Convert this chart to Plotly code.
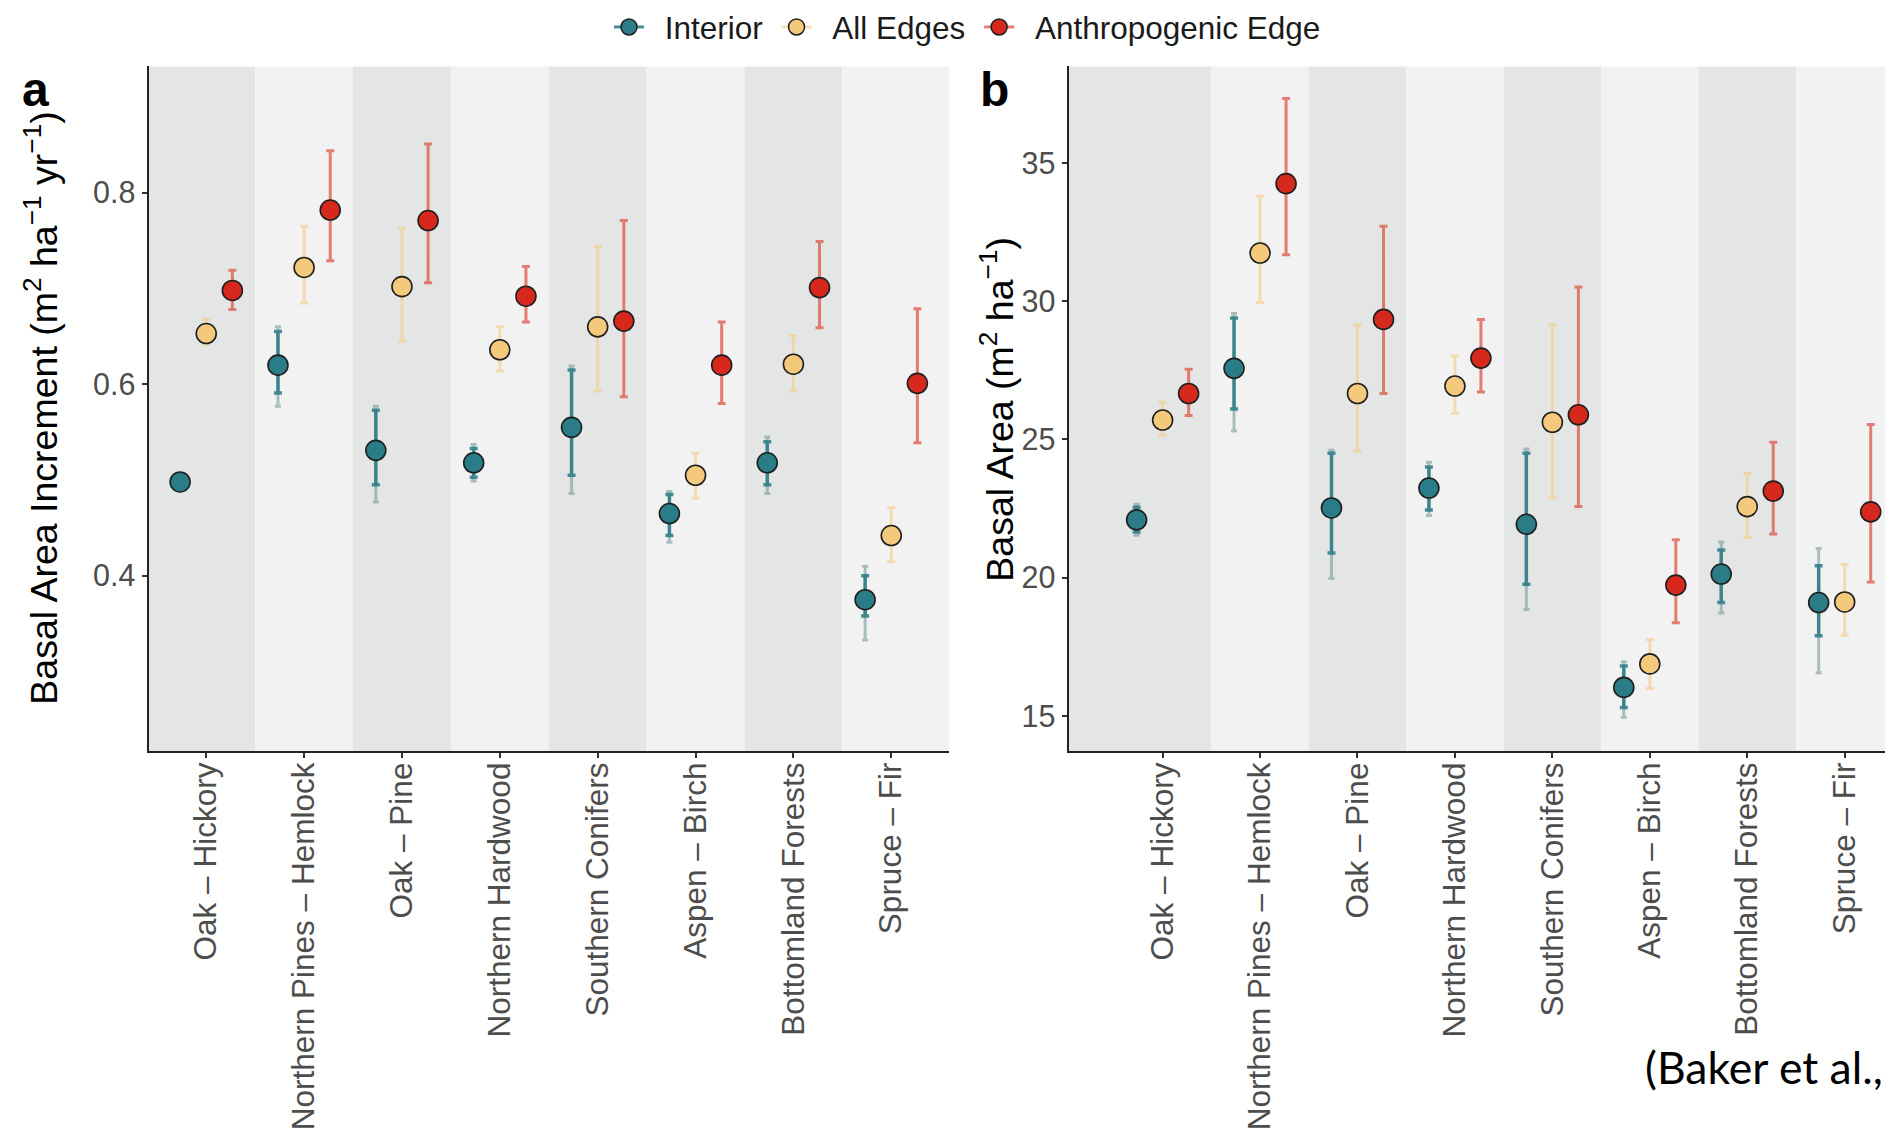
import plotly.graph_objects as go

# ---------------- data ----------------
categories = ["Oak – Hickory", "Northern Pines – Hemlock", "Oak – Pine", "Northern Hardwood",
              "Southern Conifers", "Aspen – Birch", "Bottomland Forests", "Spruce – Fir"]
series_names = ["Interior", "All Edges", "Anthropogenic Edge"]

# Panel a: Basal Area Increment
bai_interior = [0.498, 0.620, 0.531, 0.518, 0.555, 0.465, 0.518, 0.375]
bai_interior_lo = [0.491, 0.577, 0.477, 0.499, 0.486, 0.435, 0.486, 0.333]
bai_interior_hi = [0.505, 0.660, 0.577, 0.537, 0.619, 0.488, 0.545, 0.410]
bai_interior_lo_inner = [0.492, 0.591, 0.495, 0.503, 0.505, 0.442, 0.495, 0.358]
bai_interior_hi_inner = [0.504, 0.655, 0.573, 0.533, 0.615, 0.485, 0.540, 0.400]
bai_alledges = [0.653, 0.722, 0.702, 0.636, 0.660, 0.505, 0.621, 0.442]
bai_alledges_lo = [0.642, 0.685, 0.645, 0.614, 0.593, 0.481, 0.593, 0.415]
bai_alledges_hi = [0.668, 0.765, 0.763, 0.660, 0.744, 0.528, 0.651, 0.471]
bai_anthro = [0.698, 0.782, 0.771, 0.692, 0.666, 0.620, 0.701, 0.601]
bai_anthro_lo = [0.678, 0.729, 0.706, 0.665, 0.587, 0.580, 0.659, 0.539]
bai_anthro_hi = [0.719, 0.844, 0.851, 0.723, 0.771, 0.665, 0.749, 0.679]

# Panel b: Basal Area
ba_interior = [22.09, 27.57, 22.52, 23.24, 21.93, 16.03, 20.13, 19.10]
ba_interior_lo = [21.53, 25.30, 19.97, 22.25, 18.85, 14.95, 18.72, 16.56]
ba_interior_hi = [22.65, 29.55, 24.61, 24.17, 24.65, 16.96, 21.29, 21.05]
ba_interior_lo_inner = [21.65, 26.10, 20.89, 22.45, 19.76, 15.30, 19.10, 17.90]
ba_interior_hi_inner = [22.55, 29.39, 24.50, 24.00, 24.50, 16.80, 21.00, 20.43]
ba_alledges = [25.70, 31.74, 26.66, 26.93, 25.62, 16.88, 22.57, 19.12]
ba_alledges_lo = [25.14, 29.95, 24.57, 25.94, 22.89, 15.99, 21.45, 17.92]
ba_alledges_hi = [26.34, 33.80, 29.15, 28.02, 29.15, 17.76, 23.77, 20.48]
ba_anthro = [26.66, 34.25, 29.34, 27.94, 25.89, 19.73, 23.13, 22.38]
ba_anthro_lo = [25.86, 31.68, 26.66, 26.71, 22.57, 18.37, 21.58, 19.84]
ba_anthro_hi = [27.54, 37.33, 32.71, 29.34, 30.51, 21.37, 24.90, 25.54]

bai_ticks = [0.4, 0.6, 0.8]
ba_ticks = [15, 20, 25, 30, 35]

# ---------------- style ----------------
W, H = 1893, 1133
OFF = 8  # page body margin in the browser
FONT = "Liberation Sans, Arial, sans-serif"
fill_colors = ["#2a7c86", "#f5c97b", "#d7281e"]
bar_colors = ["rgba(40,122,132,0.85)", "rgba(243,203,130,0.6)", "rgba(222,85,70,0.75)"]
outer_teal = "rgba(110,145,150,0.55)"
band_dark, band_light = "#e4e6e6", "#f2f2f2"
dodge = [-0.267, 0.0, 0.267]
legend_labels = ["\u2002Interior\u00a0", "\u2002All Edges\u00a0", "\u2002Anthropogenic Edge"]

n = len(categories)
pos = list(range(1, n + 1))


def px_x(s):  # screen px -> paper fraction
    return (s - OFF) / W


def px_y(s):
    return (H - (s - OFF)) / H


fig = go.Figure()

# legend-only entries
for name, fc, bc in zip(legend_labels, fill_colors, bar_colors):
    fig.add_trace(go.Scatter(x=[None], y=[None], mode="lines+markers", name=name,
                             marker=dict(color=fc, size=17, line=dict(color="#1f1f1f", width=1.5)),
                             line=dict(color=bc, width=3), xaxis="x", yaxis="y"))


def add_panel(xa, ya, vals, los, his, inner_lo, inner_hi):
    xs0 = [p + dodge[0] for p in pos]
    fig.add_trace(go.Scatter(
        x=xs0, y=vals[0], mode="markers", marker=dict(size=1, opacity=0), showlegend=False,
        hoverinfo="skip", xaxis=xa, yaxis=ya,
        error_y=dict(type="data", symmetric=False,
                     array=[h - v for h, v in zip(his[0], vals[0])],
                     arrayminus=[v - l for v, l in zip(vals[0], los[0])],
                     color=outer_teal, thickness=3, width=3)))
    fig.add_trace(go.Scatter(
        x=xs0, y=vals[0], mode="markers", marker=dict(size=1, opacity=0), showlegend=False,
        hoverinfo="skip", xaxis=xa, yaxis=ya,
        error_y=dict(type="data", symmetric=False,
                     array=[h - v for h, v in zip(inner_hi, vals[0])],
                     arrayminus=[v - l for v, l in zip(vals[0], inner_lo)],
                     color=bar_colors[0], thickness=3.5, width=4)))
    for k in (1, 2):
        xs = [p + dodge[k] for p in pos]
        fig.add_trace(go.Scatter(
            x=xs, y=vals[k], mode="markers", marker=dict(size=1, opacity=0), showlegend=False,
            hoverinfo="skip", xaxis=xa, yaxis=ya,
            error_y=dict(type="data", symmetric=False,
                         array=[h - v for h, v in zip(his[k], vals[k])],
                         arrayminus=[v - l for v, l in zip(vals[k], los[k])],
                         color=bar_colors[k], thickness=3, width=4)))
    for k in range(3):
        xs = [p + dodge[k] for p in pos]
        fig.add_trace(go.Scatter(
            x=xs, y=vals[k], mode="markers", showlegend=False, name=series_names[k],
            marker=dict(color=fill_colors[k], size=20, line=dict(color="#1f1f1f", width=1.6)),
            xaxis=xa, yaxis=ya))


add_panel("x", "y", [bai_interior, bai_alledges, bai_anthro],
          [bai_interior_lo, bai_alledges_lo, bai_anthro_lo],
          [bai_interior_hi, bai_alledges_hi, bai_anthro_hi],
          bai_interior_lo_inner, bai_interior_hi_inner)
add_panel("x2", "y2", [ba_interior, ba_alledges, ba_anthro],
          [ba_interior_lo, ba_alledges_lo, ba_anthro_lo],
          [ba_interior_hi, ba_alledges_hi, ba_anthro_hi],
          ba_interior_lo_inner, ba_interior_hi_inner)

xr_a = [0.41, 8.59]
xr_b = [0.034, 8.496]
shapes = []
for xref, yref, xr in (("x", "y domain", xr_a), ("x2", "y2 domain", xr_b)):
    for i, p in enumerate(pos):
        x0 = xr[0] if i == 0 else p - 0.5
        x1 = xr[1] if i == n - 1 else p + 0.5
        shapes.append(dict(type="rect", xref=xref, yref=yref, x0=x0, x1=x1, y0=0, y1=1,
                           fillcolor=band_dark if i % 2 == 0 else band_light,
                           line=dict(width=0), layer="below"))

ydom = [px_y(751), px_y(66.4)]
axis_common = dict(showgrid=False, zeroline=False, showline=True, linecolor="#222222", linewidth=2,
                   ticks="outside", ticklen=5, tickwidth=1.5, tickcolor="#333333", automargin=False)
xtickfont = dict(family=FONT, size=31.5, color="#4d4d4d")
ytickfont = dict(family=FONT, size=30.5, color="#4d4d4d")

fig.update_layout(
    width=W, height=H, margin=dict(l=0, r=0, t=0, b=0, autoexpand=False),
    paper_bgcolor="white", plot_bgcolor="rgba(0,0,0,0)",
    font=dict(family=FONT, color="#1a1a1a"),
    shapes=shapes,
    showlegend=True,
    legend=dict(orientation="h", x=px_x(609), xanchor="left", y=px_y(27), yanchor="middle",
                font=dict(family=FONT, size=31.5, color="#1a1a1a"), bgcolor="rgba(0,0,0,0)"),
    xaxis=dict(domain=[px_x(148.5), px_x(949)], range=xr_a, tickvals=pos, ticktext=categories,
               tickangle=-90, anchor="y", tickfont=xtickfont, ticklabelstandoff=-8, **axis_common),
    yaxis=dict(domain=ydom, range=[0.217, 0.932], tickvals=bai_ticks, anchor="x",
               tickfont=ytickfont, **axis_common),
    xaxis2=dict(domain=[px_x(1068.5), px_x(1893)], range=xr_b, tickvals=pos, ticktext=categories,
                tickangle=-90, anchor="y2", tickfont=xtickfont, ticklabelstandoff=-8, **axis_common),
    yaxis2=dict(domain=ydom, range=[13.73, 38.49], tickvals=ba_ticks, anchor="x2",
                tickfont=ytickfont, **axis_common),
    annotations=[
        dict(text="<b>a</b>", x=px_x(20), y=px_y(89), xref="paper", yref="paper",
             xanchor="left", yanchor="middle", showarrow=False,
             font=dict(family=FONT, size=48, color="black")),
        dict(text="<b>b</b>", x=px_x(978), y=px_y(89), xref="paper", yref="paper",
             xanchor="left", yanchor="middle", showarrow=False,
             font=dict(family=FONT, size=48, color="black")),
        dict(text="Basal Area Increment (m<sup>2</sup> ha<sup>−1</sup> yr<sup>−1</sup>)",
             x=px_x(41), y=0.5, xref="paper", yref="y domain", textangle=-90,
             xanchor="center", yanchor="middle", showarrow=False,
             font=dict(family=FONT, size=37.5, color="black")),
        dict(text="Basal Area (m<sup>2</sup> ha<sup>−1</sup>)",
             x=px_x(997), y=0.5, xref="paper", yref="y2 domain", textangle=-90,
             xanchor="center", yanchor="middle", showarrow=False,
             font=dict(family=FONT, size=37.5, color="black")),
        dict(text="(Baker et al.,", x=px_x(1643), y=px_y(1066), xref="paper", yref="paper",
             xanchor="left", yanchor="middle", showarrow=False,
             font=dict(family="Lato, Noto Sans, sans-serif", size=44.5, color="black")),
    ],
)

fig.write_html("out.html")
